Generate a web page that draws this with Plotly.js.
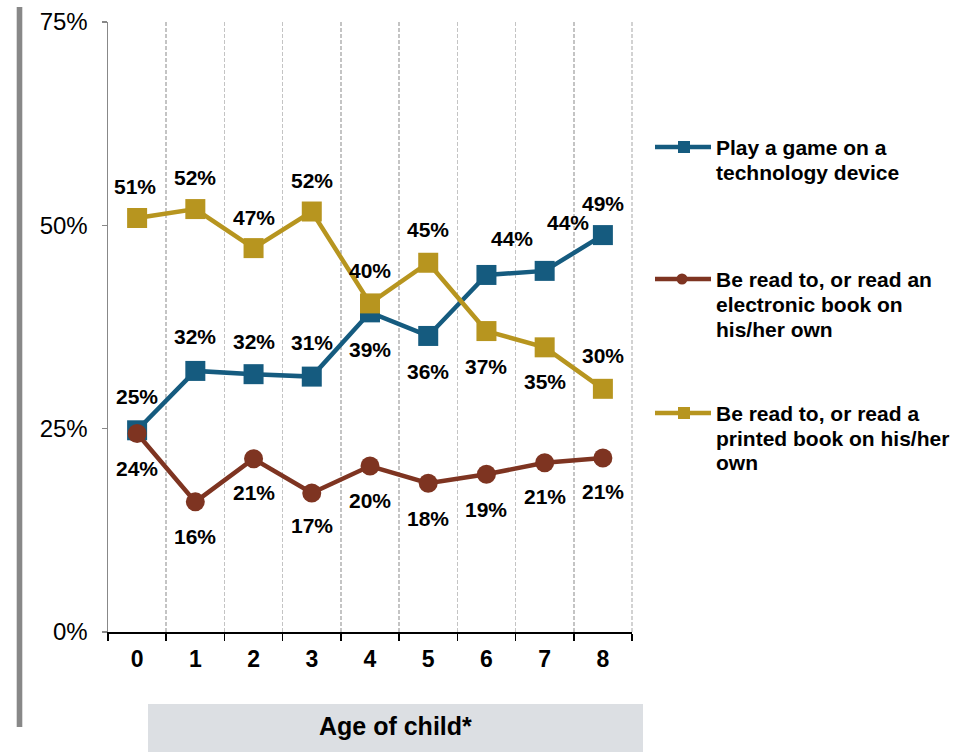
<!DOCTYPE html>
<html>
<head>
<meta charset="utf-8">
<script src="https://cdn.plot.ly/plotly-3.0.1.min.js"></script>
<style>html,body{margin:0;padding:0;background:#fff;}#chart{width:955px;height:752px;}</style>
</head>
<body>
<div id="chart"></div>
<script>
// ---- data ----
var ages = ['0','1','2','3','4','5','6','7','8'];
var gameValues = [24.8, 32.1, 31.7, 31.4, 39.3, 36.4, 43.9, 44.4, 48.8];
var ebookValues = [24.4, 16.0, 21.3, 17.1, 20.4, 18.3, 19.4, 20.8, 21.4];
var printValues = [50.9, 52.0, 47.2, 51.7, 40.4, 45.4, 37.0, 35.0, 29.9];
var seriesNames = ['Play a game on a technology device',
                   'Be read to, or read an electronic book on his/her own',
                   'Be read to, or read a printed book on his/her own'];
var legendLines = [['Play a game on a', 'technology device'],
                   ['Be read to, or read an', 'electronic book on', 'his/her own'],
                   ['Be read to, or read a', 'printed book on his/her', 'own']];
var yTickVals = [0, 25, 50, 75];
var xTitle = 'Age of child*';

// ---- styling ----
var FONT = 'Liberation Sans, Arial, sans-serif';
var colors = ['#155B7F', '#7E3421', '#B7951F'];
var W = 955, H = 752, ML = 108, MR = 323, MT = 22, MB = 120;
var PW = W - ML - MR, PH = H - MT - MB;
function px(p) { return (p - ML) / PW; }
function py(p) { return (H - MB - p) / PH; }

// label offsets (px): [xshift, yshift]
var gameOff = [[0,34],[0,34],[0,33],[0,34],[0,-37],[0,-36],[26,36],[23,48],[0,32]];
var ebookOff = [[0,-35],[0,-35],[0,-34],[0,-33],[0,-34],[0,-35],[0,-35],[0,-34],[0,-34]];
var printOff = [[-2,32],[0,32],[0,31],[0,31],[0,33],[0,33],[0,-35],[0,-34],[0,33]];

var traces = [
  {x: ages, y: gameValues, name: seriesNames[0], type: 'scatter', mode: 'lines+markers',
   line: {color: colors[0], width: 4.5}, marker: {symbol: 'square', size: 20, color: colors[0]}},
  {x: ages, y: ebookValues, name: seriesNames[1], type: 'scatter', mode: 'lines+markers',
   line: {color: colors[1], width: 4.5}, marker: {symbol: 'circle', size: 19, color: colors[1]}},
  {x: ages, y: printValues, name: seriesNames[2], type: 'scatter', mode: 'lines+markers',
   line: {color: colors[2], width: 4.5}, marker: {symbol: 'square', size: 20, color: colors[2]}}
];

var annotations = [];
function addLabels(vals, offs) {
  vals.forEach(function (v, i) {
    annotations.push({x: ages[i], y: v, xref: 'x', yref: 'y', text: Math.round(v) + '%',
      showarrow: false, xshift: offs[i][0], yshift: offs[i][1],
      font: {family: FONT, size: 21, color: '#000', weight: 'bold'}});
  });
}
addLabels(gameValues, gameOff);
addLabels(ebookValues, ebookOff);
addLabels(printValues, printOff);

// x axis title in grey box
annotations.push({x: px(395.5), y: py(726), xref: 'paper', yref: 'paper', text: xTitle,
  showarrow: false, xanchor: 'center', yanchor: 'middle',
  font: {family: FONT, size: 25, color: '#000', weight: 'bold'}});

var shapes = [
  {type: 'rect', xref: 'paper', yref: 'paper', x0: px(16.7), x1: px(22.3), y0: py(727), y1: py(7),
   fillcolor: '#888888', line: {width: 0}, layer: 'above'},
  {type: 'rect', xref: 'paper', yref: 'paper', x0: px(148), x1: px(643), y0: py(752), y1: py(704),
   fillcolor: '#DCDFE3', line: {width: 0}, layer: 'below'},
  // closing dashed gridline at the right edge of the plot
  {type: 'line', xref: 'paper', yref: 'paper', x0: 1, x1: 1, y0: 0, y1: 1,
   line: {color: '#C4C4C4', width: 1.5, dash: '4px,2px'}, layer: 'below'}
];

// custom legend
var legY = [[147, 172], [279, 304, 329], [413, 438, 462]];
var legSym = ['square', 'circle', 'square'];
for (var k = 0; k < 3; k++) {
  var yc = legY[k][0];
  shapes.push({type: 'line', xref: 'paper', yref: 'paper', x0: px(655), x1: px(711), y0: py(yc), y1: py(yc),
    line: {color: colors[k], width: 4.5}});
  if (legSym[k] === 'square') {
    shapes.push({type: 'rect', xref: 'paper', yref: 'paper', x0: px(678), x1: px(690), y0: py(yc + 6), y1: py(yc - 6),
      fillcolor: colors[k], line: {width: 0}});
  } else {
    shapes.push({type: 'circle', xref: 'paper', yref: 'paper', x0: px(676.5), x1: px(687.5), y0: py(yc + 5.5), y1: py(yc - 5.5),
      fillcolor: colors[k], line: {width: 0}});
  }
  legendLines[k].forEach(function (t, j) {
    annotations.push({x: px(714), y: py(legY[k][j]), xref: 'paper', yref: 'paper', text: t,
      showarrow: false, xanchor: 'left', yanchor: 'middle',
      font: {family: FONT, size: 21, color: '#000', weight: 'bold'}});
  });
}

var layout = {
  width: W, height: H,
  margin: {l: ML, r: MR, t: MT, b: MB, pad: 0},
  paper_bgcolor: '#fff', plot_bgcolor: '#fff',
  showlegend: false,
  font: {family: FONT, color: '#000'},
  xaxis: {type: 'category', categoryorder: 'array', categoryarray: ages,
    range: [-0.5, 8.5], tickson: 'boundaries', ticks: 'outside', ticklen: 7, tickwidth: 1.5,
    tickcolor: '#000', showline: true, linecolor: '#000', linewidth: 1.5,
    showgrid: true, gridcolor: '#C4C4C4', griddash: '4px,2px', gridwidth: 1.5,
    zeroline: false, fixedrange: true, ticklabelstandoff: 6,
    tickfont: {family: FONT, size: 23, color: '#000', weight: 'bold'}},
  yaxis: {range: [0, 75], tickvals: yTickVals, ticktext: yTickVals.map(function (v) { return v + '%'; }),
    ticks: 'outside', ticklen: 5, tickwidth: 1.5, tickcolor: '#888',
    showline: true, linecolor: '#888', linewidth: 1.5, showgrid: false, zeroline: false,
    ticklabelstandoff: 9, fixedrange: true,
    tickfont: {family: FONT, size: 24, color: '#000'}},
  shapes: shapes,
  annotations: annotations
};

Plotly.newPlot('chart', traces, layout, {displayModeBar: false, staticPlot: true});
</script>
</body>
</html>
